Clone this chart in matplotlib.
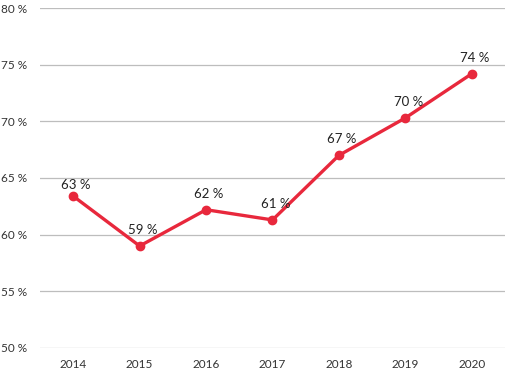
import matplotlib.pyplot as plt

years = ['2014', '2015', '2016', '2017', '2018', '2019', '2020']
values = [63.4, 59.0, 62.2, 61.3, 67.0, 70.3, 74.2]
labels = ['63 %', '59 %', '62 %', '61 %', '67 %', '70 %', '74 %']
yticks = [50, 55, 60, 65, 70, 75, 80]

plt.rcParams['font.family'] = ['Lato', 'DejaVu Sans']

fig = plt.figure(figsize=(5.1, 3.74), dpi=100)
ax = fig.add_axes([40 / 510, 1 - 348 / 374, 465 / 510, 340 / 374])

x = range(len(years))
ax.plot(x, values, color='#e8283c', linewidth=2.4, marker='o',
        markersize=6, zorder=3)

# label offsets in points (first label sits a bit closer in the original)
dy = [8, 11.5, 11.5, 11.5, 11.5, 11.5, 11.5]
for xi, v, lab, d in zip(x, values, labels, dy):
    ax.annotate(lab, (xi, v), xytext=(2, d), textcoords='offset points',
                ha='center', va='center', fontsize=9.5, color='#222222')

ax.set_xlim(-0.5, len(years) - 0.5)
ax.set_ylim(50, 80)
ax.set_xticks(list(x))
ax.set_xticklabels(years)
ax.set_yticks(yticks)
ax.set_yticklabels([f'{t} %' for t in yticks])

ax.grid(axis='y', color='#bdbdbd', linewidth=0.9)
ax.set_axisbelow(True)
for s in ax.spines.values():
    s.set_visible(False)
ax.tick_params(length=0, labelsize=8.5, labelcolor='#333333')
ax.tick_params(axis='y', pad=9)
ax.tick_params(axis='x', pad=8)

fig.savefig('out.png', dpi=100)
